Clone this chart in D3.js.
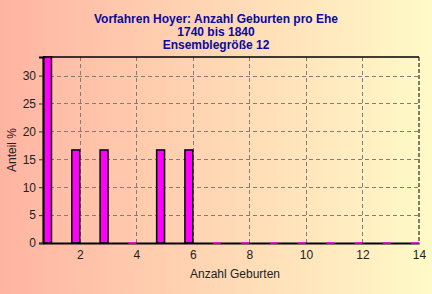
<!DOCTYPE html>
<html>
<head>
<meta charset="utf-8">
<script src="https://cdn.jsdelivr.net/npm/d3@7"></script>
<style>
body { margin: 0; padding: 0; }
svg { display: block; font-family: Arial, "Liberation Sans", sans-serif; }
</style>
</head>
<body>
<script>
var titleLines = ["Vorfahren Hoyer: Anzahl Geburten pro Ehe", "1740 bis 1840", "Ensemblegröße 12"];
var births = [1, 2, 3, 4, 5, 6, 7, 8, 9, 10, 11, 12, 13, 14];
var share = [33.33, 16.67, 16.67, 0, 16.67, 16.67, 0, 0, 0, 0, 0, 0, 0, 0];
var xTicks = [2, 4, 6, 8, 10, 12, 14];
var yTicks = [0, 5, 10, 15, 20, 25, 30];

var w = 432, h = 294;
var plotL = 43, plotR = 419, plotT = 57, plotB = 243;

var rows = births.map(function(b, i) { return {n: b, v: share[i]}; });

var svg = d3.select("body").append("svg").attr("width", w).attr("height", h);

// background gradient
var grad = svg.append("defs").append("linearGradient").attr("id", "bg")
    .attr("x1", "0%").attr("x2", "100%").attr("y1", "0%").attr("y2", "0%");
grad.append("stop").attr("offset", "0%").attr("stop-color", "#ffb4a2");
grad.append("stop").attr("offset", "50%").attr("stop-color", "#ffd7b4");
grad.append("stop").attr("offset", "100%").attr("stop-color", "#fffac8");
svg.append("rect").attr("width", w).attr("height", h).attr("fill", "url(#bg)");

var x = d3.scaleLinear().domain([0.7, 14]).range([plotL, plotR]);
var y = d3.scaleLinear().domain([0, 33.33]).range([plotB, plotT]);

// grid
svg.selectAll(".gy").data(yTicks.slice(1)).enter().append("line")
    .attr("x1", plotL).attr("x2", plotR)
    .attr("y1", function(d) { return Math.round(y(d)) + 0.5; }).attr("y2", function(d) { return Math.round(y(d)) + 0.5; })
    .attr("stroke", "#8c7a70").attr("stroke-dasharray", "4,3");
svg.selectAll(".gx").data(xTicks.slice(0, -1)).enter().append("line")
    .attr("y1", plotT).attr("y2", plotB)
    .attr("x1", function(d) { return Math.round(x(d)) + 0.5; }).attr("x2", function(d) { return Math.round(x(d)) + 0.5; })
    .attr("stroke", "#8c7a70").attr("stroke-dasharray", "4,3");

// frame
svg.append("line").attr("x1", plotL).attr("x2", plotR).attr("y1", plotT).attr("y2", plotT)
    .attr("stroke", "#000").attr("stroke-width", 1.5);
svg.append("line").attr("x1", plotR).attr("x2", plotR).attr("y1", plotT).attr("y2", plotB)
    .attr("stroke", "#000").attr("stroke-dasharray", "4,2");

// bars
var barW = x(1) - x(0.72);
svg.selectAll(".bar").data(rows.filter(function(d) { return d.v > 0; })).enter().append("rect")
    .attr("x", function(d) { return x(d.n) - barW; })
    .attr("y", function(d) { return y(d.v); })
    .attr("width", barW)
    .attr("height", function(d) { return plotB - y(d.v); })
    .attr("fill", "#ff00ff").attr("stroke", "#000").attr("stroke-width", 1.5);

// axes
var yAxis = svg.append("g").attr("transform", "translate(" + plotL + ",0)")
    .call(d3.axisLeft(y).tickValues(yTicks).tickSize(4));
var xAxis = svg.append("g").attr("transform", "translate(0," + plotB + ")")
    .call(d3.axisBottom(x).tickValues(xTicks).tickSize(0).tickPadding(7));
[yAxis, xAxis].forEach(function(a) {
    a.select(".domain").attr("stroke", "#000").attr("stroke-width", 2);
    a.selectAll("text").attr("font-size", 12).attr("fill", "#222").attr("font-family", "Arial, 'Liberation Sans', sans-serif");
});
yAxis.selectAll(".tick line").attr("stroke", "#333");

// zero bars sit on the baseline
svg.selectAll(".zero").data(rows.filter(function(d) { return d.v === 0; })).enter().append("line")
    .attr("x1", function(d) { return x(d.n) - barW; })
    .attr("x2", function(d) { return x(d.n); })
    .attr("y1", plotB).attr("y2", plotB)
    .attr("stroke", "#ff00ff").attr("stroke-width", 1.5);

// titles
svg.selectAll(".title").data(titleLines).enter().append("text")
    .attr("x", 216).attr("y", function(d, i) { return 23 + i * 13; })
    .attr("text-anchor", "middle").attr("font-size", 12).attr("font-weight", "bold")
    .attr("fill", "#0a0aa0").text(function(d) { return d; });

svg.append("text").attr("transform", "translate(16," + ((plotT + plotB) / 2) + ") rotate(-90)")
    .attr("text-anchor", "middle").attr("font-size", 12).attr("fill", "#222").text("Anteil %");
svg.append("text").attr("x", 235).attr("y", 278)
    .attr("text-anchor", "middle").attr("font-size", 12).attr("fill", "#222").text("Anzahl Geburten");
</script>
</body>
</html>
